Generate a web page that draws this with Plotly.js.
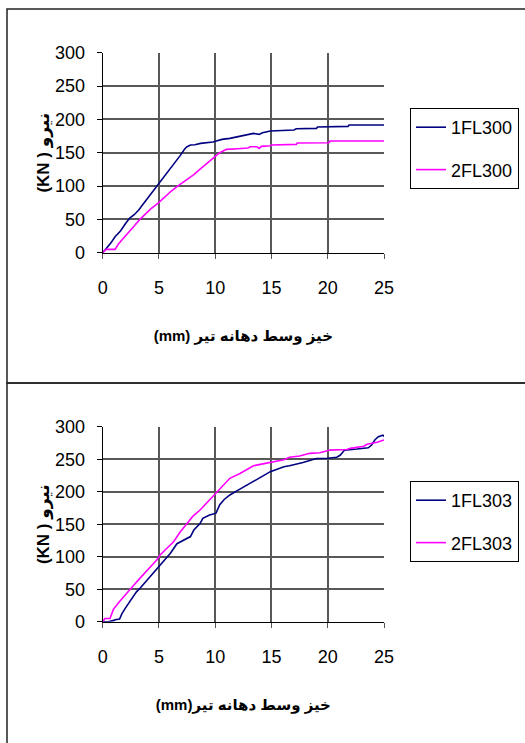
<!DOCTYPE html>
<html>
<head>
<meta charset="utf-8">
<script src="https://cdn.plot.ly/plotly-3.0.1.min.js"></script>
<style>html,body{margin:0;padding:0;background:#fff;}#chart{width:525px;height:743px;}</style>
</head>
<body>
<div id="chart"></div>
<script>
// ---- Data ----
const xTickVals = [0, 5, 10, 15, 20, 25];
const yTickVals = [0, 50, 100, 150, 200, 250, 300];

const topSeriesNames = ["1FL300", "2FL300"];
const bottomSeriesNames = ["1FL303", "2FL303"];

const xTitleTop = "(mm) خیز وسط دهانه تیر";
const xTitleBottom = "(mm)خیز وسط دهانه تیر";
const yTitle = "(KN ) نیرو";

const fl300_1_x = [0, 0.3, 0.7, 1.1, 1.6, 2.0, 2.4, 2.8, 3.2, 3.6, 4.1, 4.5, 4.9, 5.4, 5.9, 6.4, 6.9, 7.3, 7.5, 7.8, 8.2, 8.7, 9.4, 9.8, 10.1, 10.6, 11.3, 12.2, 12.8, 13.4, 13.9, 14.2, 14.9, 15.5, 17.0, 17.2, 19.0, 19.1, 21.8, 21.9, 25.0];
const fl300_1_y = [0, 6, 14, 24, 33, 43, 52, 57, 64, 73, 84, 93, 101.5, 112, 123, 135, 146, 156, 159, 161.5, 162, 164, 165, 166, 167.5, 170, 171.5, 175, 177, 179, 177.5, 180, 182.5, 183, 184, 186, 186.5, 188.5, 189.5, 191.5, 191.5];

const fl300_2_x = [0, 0.3, 1.1, 1.4, 1.8, 2.3, 2.8, 3.3, 3.8, 4.3, 4.9, 5.5, 6.1, 6.6, 7.1, 7.6, 8.1, 8.5, 8.9, 9.4, 9.9, 10.4, 10.7, 11.0, 12.0, 12.9, 13.1, 13.7, 13.9, 14.1, 14.9, 15.0, 17.2, 17.3, 20.1, 20.2, 25.0];
const fl300_2_y = [0, 5, 5, 13, 21, 30, 40, 50, 58, 66, 74, 84, 92.5, 99, 105, 110, 117, 123, 129, 136, 143, 150, 152.5, 155, 156, 157, 159, 159, 156.5, 159.5, 160.5, 161.5, 162.5, 164.5, 165, 167.5, 167.5];

const fl303_1_x = [0, 0.5, 1.0, 1.1, 1.5, 1.7, 2.0, 2.4, 2.7, 3.0, 3.3, 3.9, 4.5, 5.1, 5.6, 6.0, 6.6, 7.2, 7.8, 8.1, 8.65, 8.9, 9.5, 10.07, 10.4, 10.8, 11.3, 12.0, 12.8, 13.7, 14.9, 16.1, 16.6, 17.8, 19.0, 20.0, 20.8, 21.1, 21.4, 21.5, 22.6, 23.6, 23.9, 24.2, 24.5, 24.9, 25.0];
const fl303_1_y = [0, 0, 2, 3, 4, 12, 20.5, 30, 38.5, 46, 51, 63, 74, 87, 97, 105, 120, 126, 131, 141, 151, 159, 164, 167, 180, 188, 195, 202, 210, 220, 230.8, 238.5, 240, 245, 251, 251.5, 253, 256, 262, 264, 265.6, 267.6, 271.8, 280, 284.6, 287, 285];

const fl303_2_x = [0, 0.2, 0.65, 0.95, 1.5, 2.1, 2.7, 3.3, 4.0, 4.8, 5.1, 5.5, 6.0, 6.3, 6.9, 7.5, 8.0, 8.65, 9.2, 9.7, 10.1, 10.6, 11.0, 11.3, 12.2, 12.8, 13.4, 14.0, 14.9, 16.1, 16.6, 17.5, 18.4, 19.3, 20.2, 21.7, 22.0, 23.2, 23.5, 24.4, 25.0];
const fl303_2_y = [0, 5, 5, 19, 31, 43.6, 55, 66.7, 80, 95, 102.6, 110, 118, 123, 138.5, 151, 162, 171.8, 182, 191, 200, 209, 215, 220.6, 228, 233.4, 240, 242, 245.5, 249, 253, 255, 259, 260, 264, 265, 266.7, 270, 273, 276, 279.5];

// ---- Styling ----
const W = 525, H = 743;
const px = v => v / W;
const py = v => 1 - v / H;
const NAVY = "#000080", MAG = "#FF00FF";
const tickFont = {family: "'Liberation Sans', Arial, sans-serif", size: 18, color: "#000"};
const legendFont = {family: "'Liberation Sans', Arial, sans-serif", size: 18, color: "#000"};
const titleFont = {family: "'Liberation Sans', Arial, 'DejaVu Sans', sans-serif", size: 15, color: "#000", weight: "bold"};
const yTitleFont = {family: "'Liberation Sans', Arial, 'DejaVu Sans', sans-serif", size: 17, color: "#000", weight: "bold"};
const GRID = "#585858";

function xAxis(domain, anchor, title) {
  return {
    domain: domain, anchor: anchor, range: [0, 25], tickvals: xTickVals,
    showgrid: true, gridcolor: GRID, gridwidth: 2,
    showline: true, linecolor: "#000", linewidth: 1,
    ticks: "outside", ticklen: 5, tickcolor: "#555", ticklabelstandoff: 14,
    tickfont: tickFont, zeroline: false, fixedrange: true,
    title: {text: title, font: titleFont, standoff: 33}
  };
}
function yAxis(domain, anchor) {
  return {
    domain: domain, anchor: anchor, range: [0, 300], tickvals: yTickVals,
    showgrid: true, gridcolor: GRID, gridwidth: 2,
    showline: true, linecolor: "#000", linewidth: 1,
    ticks: "outside", ticklen: 5, tickcolor: "#000", ticklabelstandoff: 8,
    tickfont: tickFont, zeroline: false, fixedrange: true,
    title: {text: yTitle, font: yTitleFont, standoff: 1}
  };
}

const traces = [
  {x: fl300_1_x, y: fl300_1_y, name: topSeriesNames[0], type: "scatter", mode: "lines", line: {color: NAVY, width: 1.6}, xaxis: "x", yaxis: "y", legend: "legend", legendgroup: "a"},
  {x: fl300_2_x, y: fl300_2_y, name: topSeriesNames[1], type: "scatter", mode: "lines", line: {color: MAG, width: 1.6}, xaxis: "x", yaxis: "y", legend: "legend", legendgroup: "b"},
  {x: fl303_1_x, y: fl303_1_y, name: bottomSeriesNames[0], type: "scatter", mode: "lines", line: {color: NAVY, width: 1.6}, xaxis: "x2", yaxis: "y2", legend: "legend2", legendgroup: "c"},
  {x: fl303_2_x, y: fl303_2_y, name: bottomSeriesNames[1], type: "scatter", mode: "lines", line: {color: MAG, width: 1.6}, xaxis: "x2", yaxis: "y2", legend: "legend2", legendgroup: "d"}
];

const legendBase = {
  xanchor: "left", yanchor: "top", bgcolor: "#fff", bordercolor: "#000", borderwidth: 1,
  font: legendFont, itemwidth: 30, tracegroupgap: 16, traceorder: "grouped"
};

const layout = {
  width: W, height: H,
  margin: {l: 0, r: 0, t: 0, b: 0},
  paper_bgcolor: "#fff", plot_bgcolor: "#fff",
  showlegend: true,
  xaxis: xAxis([px(102.7), px(384)], "y", xTitleTop),
  yaxis: yAxis([py(252.7), py(52.7)], "x"),
  xaxis2: xAxis([px(102.7), px(384)], "y2", xTitleBottom),
  yaxis2: yAxis([py(621.7), py(426.7)], "x2"),
  legend: Object.assign({}, legendBase, {x: px(410), y: py(108)}),
  legend2: Object.assign({}, legendBase, {x: px(410), y: py(481)}),
  shapes: [
    {type: "rect", xref: "paper", yref: "paper", x0: px(7), x1: 1.02, y0: py(383), y1: py(9), line: {color: "#222", width: 1.5}},
    {type: "rect", xref: "paper", yref: "paper", x0: px(7), x1: 1.02, y0: -0.02, y1: py(383), line: {color: "#222", width: 1.5}}
  ]
};

Plotly.newPlot("chart", traces, layout, {displayModeBar: false, staticPlot: true});
</script>
</body>
</html>
